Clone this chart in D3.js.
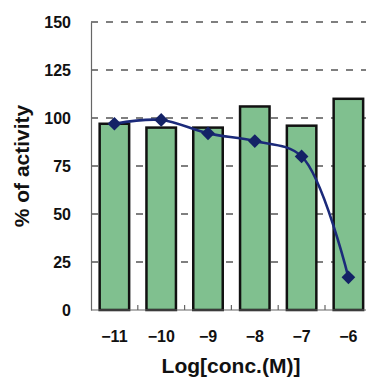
<!DOCTYPE html>
<html>
<head>
<meta charset="utf-8">
<script src="https://cdn.jsdelivr.net/npm/d3@7"></script>
<style>
  html, body { margin: 0; padding: 0; background: #fff; }
  svg { display: block; }
  text { font-family: "Liberation Sans", Arial, sans-serif; font-weight: bold; fill: #111; }
</style>
</head>
<body>
<script>
const categories = ["-11", "-10", "-9", "-8", "-7", "-6"];
const tickLabels = ["\u221211", "\u221210", "\u22129", "\u22128", "\u22127", "\u22126"];
const barValues = [97, 95, 95, 106, 96, 110];
const lineValues = [97, 99, 92, 88, 80, 17];
const yTicks = [0, 25, 50, 75, 100, 125, 150];
const xTitle = "Log[conc.(M)]";
const yTitle = "% of activity";

const W = 366, H = 380;
const plotLeft = 91, plotTop = 22, plotBottom = 310;
const step = 46.8;
const plotRight = plotLeft + step * categories.length;

const svg = d3.select("body").append("svg").attr("width", W).attr("height", H);

const x = d3.scaleBand().domain(categories).range([plotLeft, plotRight]).paddingInner(0.37).paddingOuter(0.185);
const y = d3.scaleLinear().domain([0, 150]).range([plotBottom, plotTop]);

// gridlines
svg.append("g").selectAll("line").data(yTicks.filter(d => d > 0)).join("line")
  .attr("x1", plotLeft).attr("x2", W)
  .attr("y1", d => y(d)).attr("y2", d => y(d))
  .attr("stroke", "#555").attr("stroke-width", 1.6).attr("stroke-dasharray", "7,8");

// bars
svg.append("g").selectAll("rect").data(categories).join("rect")
  .attr("x", (d) => x(d))
  .attr("width", x.bandwidth())
  .attr("y", (d, i) => y(barValues[i]))
  .attr("height", (d, i) => plotBottom - y(barValues[i]))
  .attr("fill", "#80c08f")
  .attr("stroke", "#111").attr("stroke-width", 2.5);

// axes
const yAxis = d3.axisLeft(y).tickValues(yTicks).tickSize(0).tickPadding(20);
const gy = svg.append("g").attr("transform", `translate(${plotLeft},0)`).call(yAxis);
gy.select(".domain").attr("stroke", "#666").attr("stroke-width", 1.2);
gy.selectAll("text").style("font-size", "16px").style("font-family", "'Liberation Sans', Arial, sans-serif").style("font-weight", "bold").attr("fill", "#111");

const xAxis = d3.axisBottom(x).tickSize(0).tickPadding(21).tickFormat((d, i) => tickLabels[i]);
const gx = svg.append("g").attr("transform", `translate(0,${plotBottom})`).call(xAxis);
gx.select(".domain").remove();
gx.selectAll("text").style("font-size", "16px").style("font-family", "'Liberation Sans', Arial, sans-serif").style("font-weight", "bold").attr("fill", "#111");
svg.append("line").attr("x1", plotLeft).attr("x2", W).attr("y1", plotBottom).attr("y2", plotBottom).attr("stroke", "#666").attr("stroke-width", 1.2);
// small tick marks between categories
svg.append("g").selectAll("line").data(d3.range(1, categories.length)).join("line")
  .attr("x1", i => plotLeft + i * step).attr("x2", i => plotLeft + i * step)
  .attr("y1", plotBottom).attr("y2", plotBottom - 5)
  .attr("stroke", "#666").attr("stroke-width", 1.2);

// line
const line = d3.line()
  .x((d, i) => x(categories[i]) + x.bandwidth() / 2)
  .y(d => y(d))
  .curve(d3.curveCatmullRom.alpha(0.5));
svg.append("path").datum(lineValues).attr("d", line)
  .attr("fill", "none").attr("stroke", "#1b2a7a").attr("stroke-width", 2.6);

svg.append("g").selectAll("path").data(lineValues).join("path")
  .attr("d", d3.symbol().type(d3.symbolDiamond2).size(120))
  .attr("transform", (d, i) => `translate(${x(categories[i]) + x.bandwidth() / 2},${y(d)})`)
  .attr("fill", "#142266");

// titles
svg.append("text").attr("x", 231).attr("y", 373).attr("text-anchor", "middle")
  .style("font-size", "21px").text(xTitle);
svg.append("text").attr("transform", "translate(29,166) rotate(-90)").attr("text-anchor", "middle")
  .style("font-size", "21px").text(yTitle);
</script>
</body>
</html>
